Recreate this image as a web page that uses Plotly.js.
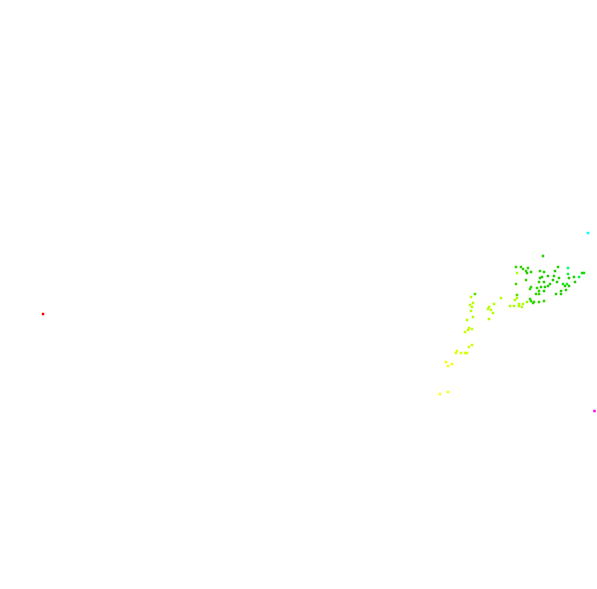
<!DOCTYPE html>
<html><head><meta charset="utf-8">
<script src="https://cdn.plot.ly/plotly-3.0.1.min.js"></script>
<style>html,body{margin:0;padding:0;background:#fff;}#chart{width:597px;height:589px;}</style>
</head><body><div id="chart"></div>
<script>
const xVals = [588,543,516,521,523,528,526,527,517,531,540,544,558,555,568,568,582,584,579,574,569,548,554,559,540,542,526,553,557,544,539,550,567,563,575,516,531,537,541,545,548,565,569,530,544,539,536,539,566,561,556,561,517,517,515,530,531,534,533,539,544,527,523,519,519,522,514,510,501,494,489,488,491,493,489,475,471,473,470,472,471,473,467,469,472,468,465,472,469,461,456,465,467,457,446,448,452,440,448,43,594.5];
const yPix = [233,256,267,267,269,268,271,273,273,272,271,272,267,271,268,274,273,273,277,277,278,276,276,278,278,277,280,280,282,282,282,284,284,284,282,284,287,288,287,287,286,286,286,289,291,291,294,294,290,291,294,294,295,298,300,299,301,302,303,302,301,302,304,304,306,307,306,306,298,304,307,309,310,313,319,294,297,303,305,307,311,317,320,328,329,330,332,345,347,353,353,353,353,351,362,366,364,394,392,314,411];
const colorVals = [0.5,0.33,0.32,0.32,0.32,0.32,0.32,0.33,0.23,0.33,0.32,0.33,0.33,0.33,0.42,0.39,0.34,0.34,0.4,0.33,0.33,0.33,0.33,0.33,0.33,0.33,0.32,0.33,0.33,0.33,0.32,0.33,0.38,0.36,0.33,0.31,0.32,0.32,0.33,0.33,0.33,0.33,0.33,0.32,0.33,0.32,0.32,0.32,0.33,0.33,0.33,0.33,0.3,0.24,0.24,0.32,0.32,0.32,0.32,0.32,0.32,0.25,0.24,0.24,0.24,0.24,0.24,0.24,0.23,0.23,0.23,0.23,0.23,0.23,0.23,0.3,0.23,0.23,0.23,0.23,0.23,0.23,0.23,0.22,0.22,0.22,0.22,0.21,0.21,0.2,0.2,0.2,0.2,0.19,0.18,0.18,0.18,0.17,0.17,0,0.83];
const yVals = yPix.map(p => 589 - p);

const hueScale = [[0,'#ff0000'],[0.17,'#ffff00'],[0.24,'#aaff00'],[0.33,'#22cc00'],[0.4,'#00ff44'],[0.5,'#00ffff'],[0.67,'#0000ff'],[0.83,'#ff00ff'],[1,'#ff0000']];

const trace = {
  type: 'scatter', mode: 'markers', x: xVals, y: yVals,
  marker: {symbol: 'square', size: 2.5, color: colorVals, colorscale: hueScale, cmin: 0, cmax: 1, line: {width: 0}, showscale: false},
  hoverinfo: 'none'
};
const hidden = {visible: false, showgrid: false, zeroline: false, fixedrange: true};
const layout = {
  width: 597, height: 589, margin: {l: 0, r: 0, t: 0, b: 0},
  paper_bgcolor: '#ffffff', plot_bgcolor: '#ffffff', showlegend: false,
  xaxis: Object.assign({range: [0, 597]}, hidden),
  yaxis: Object.assign({range: [0, 589]}, hidden)
};
Plotly.newPlot('chart', [trace], layout, {staticPlot: true, displayModeBar: false});
</script></body></html>
